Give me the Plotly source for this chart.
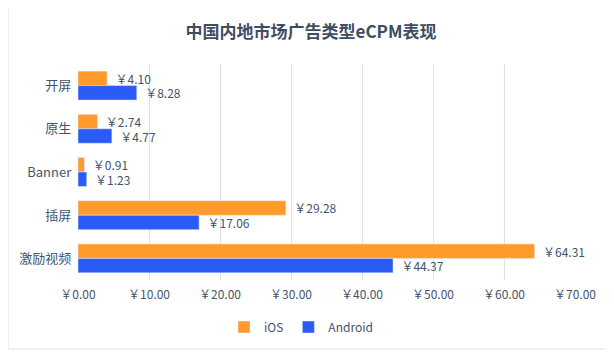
import plotly.graph_objects as go

categories = ["开屏", "原生", "Banner", "插屏", "激励视频"]
ios_values = [4.10, 2.74, 0.91, 29.28, 64.31]
android_values = [8.28, 4.77, 1.23, 17.06, 44.37]
tick_values = [0, 10, 20, 30, 40, 50, 60, 70]
tick_labels = ["￥0.00", "￥10.00", "￥20.00", "￥30.00", "￥40.00", "￥50.00", "￥60.00", "￥70.00"]

FONT = "Noto Sans CJK SC"
TXT = "#44546A"

fig = go.Figure()
for name, vals, col in [("iOS", ios_values, "#FF9A2B"), ("Android", android_values, "#2A5BF7")]:
    fig.add_trace(go.Bar(
        y=categories, x=vals, name=name, orientation="h",
        marker=dict(color=col),
        texttemplate="  ￥%{x:.2f}", textposition="outside", cliponaxis=False,
        constraintext="none",
        textfont=dict(family=FONT, size=12, color=TXT),
    ))

# page body has an 8px offset, so the figure is drawn 8px smaller
OFF = 8
W, H = 614 - OFF, 360 - OFF
L, T = 78 - OFF, 64 - OFF
R = W - (575 - OFF)
B = H - (280 - OFF)
pw, ph = W - L - R, H - T - B

def px_x(p):
    return (p - OFF - L) / pw

def px_y(p):
    return (H - B - (p - OFF)) / ph

fig.update_layout(
    width=W, height=H,
    margin=dict(l=L, r=R, t=T, b=B, autoexpand=False),
    paper_bgcolor="white", plot_bgcolor="white",
    barmode="group", bargap=0.33, bargroupgap=0,
    font=dict(family=FONT, color=TXT),
    title=dict(text="<b>中国内地市场广告类型eCPM表现</b>", x=0.5, xanchor="center",
               y=1 - (32 - OFF) / H, yanchor="middle", font=dict(size=17, color="#3F4D63", family=FONT)),
    xaxis=dict(range=[0, 70], tickvals=tick_values, ticktext=tick_labels, automargin=False,
               showgrid=True, gridcolor="#DDE1E8", gridwidth=1, zeroline=False,
               showline=False, ticks="", ticklabelstandoff=6,
               tickfont=dict(size=12, color=TXT, family=FONT)),
    yaxis=dict(autorange="reversed", showgrid=False, ticks="", showline=False, automargin=False,
               tickfont=dict(size=13, color=TXT, family=FONT), ticksuffix="  "),
    legend=dict(orientation="h", x=px_x(301), xanchor="center", y=px_y(327), yanchor="middle",
                font=dict(size=12, color=TXT, family=FONT),
                traceorder="normal", itemwidth=30),
    showlegend=True,
    shapes=[dict(type="rect", xref="paper", yref="paper",
                 x0=px_x(8), x1=px_x(607), y0=px_y(349), y1=px_y(7),
                 line=dict(color="#DDE1E8", width=1), fillcolor="rgba(0,0,0,0)", layer="below")],
)

fig.write_html("out.html")
